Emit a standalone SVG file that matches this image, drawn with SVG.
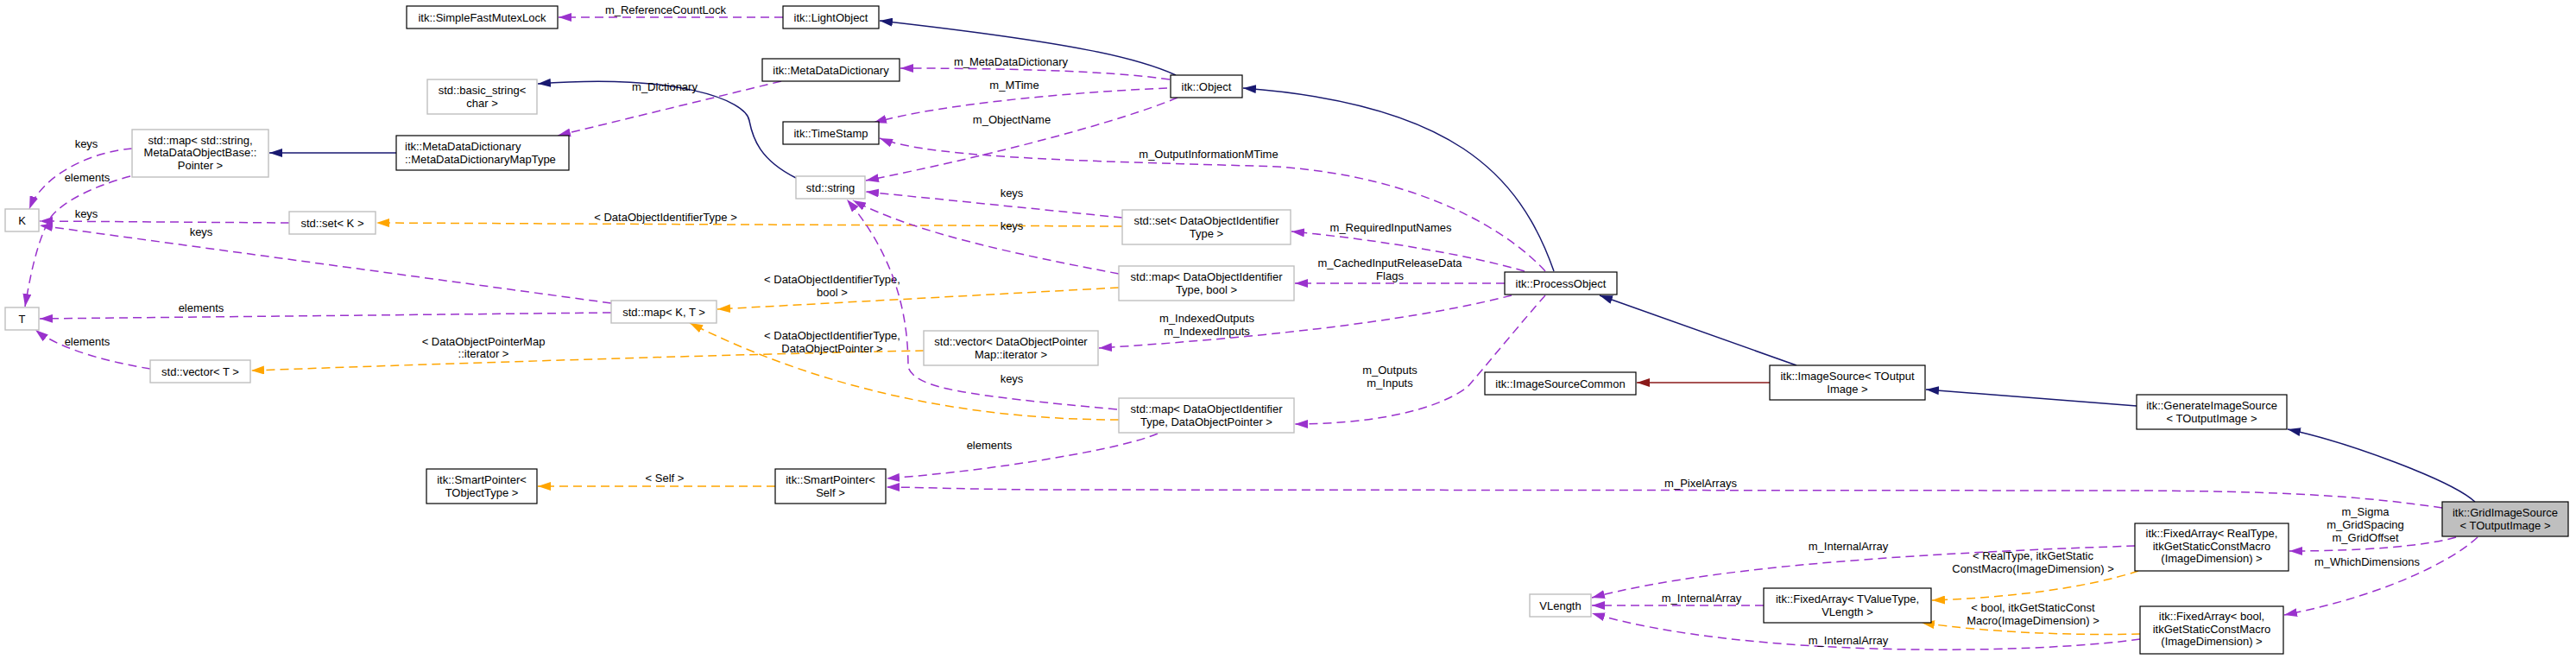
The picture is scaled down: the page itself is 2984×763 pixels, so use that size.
<svg xmlns="http://www.w3.org/2000/svg" width="2984" height="763" viewBox="0 0 2984 763">
<style>
text{font-family:"Liberation Sans",Arial,sans-serif;font-size:13px;fill:#000}
.c{text-anchor:middle}
.b{fill:#fff;stroke:#000;stroke-width:1.2}
.g{fill:#fff;stroke:#bfbfbf;stroke-width:1.4}
.h{fill:#bfbfbf;stroke:#000;stroke-width:1.2}
.e{fill:none;stroke-width:1.5}
.nav{stroke:#191970}
.red{stroke:#8b1a1a}
.pur{stroke:#9a32cd;stroke-dasharray:10,6}
.org{stroke:#ffa500;stroke-dasharray:10,6}
</style>
<defs>
<marker id="aN" viewBox="0 0 15 10" refX="15" refY="5" markerWidth="15" markerHeight="10" markerUnits="userSpaceOnUse" orient="auto"><path d="M0,0 L15,5 L0,10 z" fill="#191970"/></marker>
<marker id="aR" viewBox="0 0 15 10" refX="15" refY="5" markerWidth="15" markerHeight="10" markerUnits="userSpaceOnUse" orient="auto"><path d="M0,0 L15,5 L0,10 z" fill="#8b1a1a"/></marker>
<marker id="aP" viewBox="0 0 15 10" refX="15" refY="5" markerWidth="15" markerHeight="10" markerUnits="userSpaceOnUse" orient="auto"><path d="M0,0 L15,5 L0,10 z" fill="#9a32cd"/></marker>
<marker id="aO" viewBox="0 0 15 10" refX="15" refY="5" markerWidth="15" markerHeight="10" markerUnits="userSpaceOnUse" orient="auto"><path d="M0,0 L15,5 L0,10 z" fill="#ffa500"/></marker>
</defs>
<rect width="2984" height="763" fill="#fff"/>

<g id="edges">
<!-- inheritance -->
<path class="e nav" marker-end="url(#aN)" d="M1362,87 C1320,68 1250,50 1019,24"/>
<path class="e nav" marker-end="url(#aN)" d="M1800,314 C1760,200 1680,120 1440,102"/>
<path class="e nav" marker-end="url(#aN)" d="M2081,423 L1853,342"/>
<path class="e nav" marker-end="url(#aN)" d="M2475,470 L2231,451"/>
<path class="e nav" marker-end="url(#aN)" d="M2867,581 C2840,556 2720,512 2650,497"/>
<path class="e nav" marker-end="url(#aN)" d="M459,177 L312,177"/>
<path class="e nav" marker-end="url(#aN)" d="M922,206 C880,185 872,160 868,140 C865,115 780,85 623,97"/>
<path class="e red" marker-end="url(#aR)" d="M2050,443 L1896,443"/>
<!-- template instances -->
<path class="e org" marker-end="url(#aO)" d="M1300,262 L436,258"/>
<path class="e org" marker-end="url(#aO)" d="M1296,333 L831,358"/>
<path class="e org" marker-end="url(#aO)" d="M1296,486 C1120,486 950,450 799,374"/>
<path class="e org" marker-end="url(#aO)" d="M1070,406 C900,409 600,418 291,429"/>
<path class="e org" marker-end="url(#aO)" d="M898,563 L623,563"/>
<path class="e org" marker-end="url(#aO)" d="M2477,661 C2420,680 2330,692 2238,695"/>
<path class="e org" marker-end="url(#aO)" d="M2479,734 C2400,736 2300,732 2226,721"/>
<text class="c" x="771" y="255.5">&lt; DataObjectIdentifierType &gt;</text>
<text class="c" x="964" y="328">&lt; DataObjectIdentifierType,</text>
<text class="c" x="964" y="343">bool &gt;</text>
<text class="c" x="964" y="393">&lt; DataObjectIdentifierType,</text>
<text class="c" x="964" y="408">DataObjectPointer &gt;</text>
<text class="c" x="560" y="400">&lt; DataObjectPointerMap</text>
<text class="c" x="560" y="414">::iterator &gt;</text>
<text class="c" x="770" y="558">&lt; Self &gt;</text>
<text class="c" x="2355" y="648">&lt; RealType, itkGetStatic</text>
<text class="c" x="2355" y="663">ConstMacro(ImageDimension) &gt;</text>
<text class="c" x="2355" y="708">&lt; bool, itkGetStaticConst</text>
<text class="c" x="2355" y="723">Macro(ImageDimension) &gt;</text>
<!-- usage -->
<path class="e pur" marker-end="url(#aP)" d="M907,20 L647,20"/>
<path class="e pur" marker-end="url(#aP)" d="M1355,92 C1300,84 1200,79 1043,79"/>
<path class="e pur" marker-end="url(#aP)" d="M1352,102 C1250,106 1090,120 1012,142"/>
<path class="e pur" marker-end="url(#aP)" d="M1364,113 C1300,140 1150,180 1003,209"/>
<path class="e pur" marker-end="url(#aP)" d="M1790,314 C1750,270 1650,205 1480,193 C1300,187 1080,185 1019,160"/>
<path class="e pur" marker-end="url(#aP)" d="M905,94 L646,157"/>
<path class="e pur" marker-end="url(#aP)" d="M153,172 C110,175 50,200 34,242"/>
<path class="e pur" marker-end="url(#aP)" d="M151,204 C110,215 75,232 60,250 C48,268 38,300 29,355"/>
<path class="e pur" marker-end="url(#aP)" d="M335,258 L46,256"/>
<path class="e pur" marker-end="url(#aP)" d="M708,351 L46,261"/>
<path class="e pur" marker-end="url(#aP)" d="M708,362 L46,369"/>
<path class="e pur" marker-end="url(#aP)" d="M174,427 C130,420 70,405 41,382"/>
<path class="e pur" marker-end="url(#aP)" d="M1300,252 L1003,222"/>
<path class="e pur" marker-end="url(#aP)" d="M1296,317 C1180,295 1060,270 988,232"/>
<path class="e pur" marker-end="url(#aP)" d="M1294,474 C1120,458 1060,450 1052,425 C1052,370 1040,300 981,231"/>
<path class="e pur" marker-end="url(#aP)" d="M1766,314 C1700,295 1600,278 1496,268"/>
<path class="e pur" marker-end="url(#aP)" d="M1743,328 L1500,328"/>
<path class="e pur" marker-end="url(#aP)" d="M1751,342 C1680,360 1550,385 1273,403"/>
<path class="e pur" marker-end="url(#aP)" d="M1790,342 C1765,370 1720,425 1700,448 C1660,478 1580,491 1500,491"/>
<path class="e pur" marker-end="url(#aP)" d="M1341,502 C1300,520 1150,545 1027,554"/>
<path class="e pur" marker-end="url(#aP)" d="M2829,588 C2740,575 2650,568 2450,568 L1200,567 C1100,566 1060,564 1027,564"/>
<path class="e pur" marker-end="url(#aP)" d="M2845,622 C2810,632 2740,638 2652,638"/>
<path class="e pur" marker-end="url(#aP)" d="M2870,622 C2840,650 2760,690 2646,712"/>
<path class="e pur" marker-end="url(#aP)" d="M2473,632 C2300,638 2000,650 1844,692"/>
<path class="e pur" marker-end="url(#aP)" d="M2043,701 L1844,701"/>
<path class="e pur" marker-end="url(#aP)" d="M2479,740 C2350,758 2020,762 1844,710"/>
<text class="c" x="771" y="16">m_ReferenceCountLock</text>
<text class="c" x="1171" y="76">m_MetaDataDictionary</text>
<text class="c" x="1175" y="103">m_MTime</text>
<text class="c" x="1172" y="143">m_ObjectName</text>
<text class="c" x="1400" y="183">m_OutputInformationMTime</text>
<text class="c" x="770" y="104.5">m_Dictionary</text>
<text class="c" x="100" y="171">keys</text>
<text class="c" x="101" y="209.5">elements</text>
<text class="c" x="100" y="252">keys</text>
<text class="c" x="233" y="273">keys</text>
<text class="c" x="233" y="361">elements</text>
<text class="c" x="101" y="399.5">elements</text>
<text class="c" x="1172" y="227.5">keys</text>
<text class="c" x="1172" y="265.5">keys</text>
<text class="c" x="1172" y="442.5">keys</text>
<text class="c" x="1611" y="267.5">m_RequiredInputNames</text>
<text class="c" x="1610" y="308.5">m_CachedInputReleaseData</text>
<text class="c" x="1610" y="323.5">Flags</text>
<text class="c" x="1398" y="372.5">m_IndexedOutputs</text>
<text class="c" x="1398" y="387.5">m_IndexedInputs</text>
<text class="c" x="1610" y="432.5">m_Outputs</text>
<text class="c" x="1610" y="447.5">m_Inputs</text>
<text class="c" x="1146" y="519.5">elements</text>
<text class="c" x="1970" y="564">m_PixelArrays</text>
<text class="c" x="2740" y="596.5">m_Sigma</text>
<text class="c" x="2740" y="611.5">m_GridSpacing</text>
<text class="c" x="2740" y="626.5">m_GridOffset</text>
<text class="c" x="2742" y="654.5">m_WhichDimensions</text>
<text class="c" x="2141" y="636.5">m_InternalArray</text>
<text class="c" x="1971" y="697">m_InternalArray</text>
<text class="c" x="2141" y="745.5">m_InternalArray</text>
</g>

<g id="n_SimpleFastMutexLock"><rect class="b" x="471" y="7" width="175" height="26"/><text class="c" x="558.5" y="24.5">itk::SimpleFastMutexLock</text></g>
<g id="n_LightObject"><rect class="b" x="907" y="7" width="111" height="26"/><text class="c" x="962.5" y="24.5">itk::LightObject</text></g>
<g id="n_MetaDataDictionary"><rect class="b" x="883" y="68" width="159" height="26"/><text class="c" x="962.5" y="85.5">itk::MetaDataDictionary</text></g>
<g id="n_Object"><rect class="b" x="1356" y="87" width="83" height="26"/><text class="c" x="1397.5" y="104.5">itk::Object</text></g>
<g id="n_TimeStamp"><rect class="b" x="907" y="141" width="111" height="26"/><text class="c" x="962.5" y="158.5">itk::TimeStamp</text></g>
<g id="n_basic_string"><rect class="g" x="495" y="92" width="127" height="40"/><text class="c" x="558.5" y="109">std::basic_string&lt;</text><text class="c" x="558.5" y="124">char &gt;</text></g>
<g id="n_map_string"><rect class="g" x="153" y="150" width="158" height="55"/><text class="c" x="232" y="166.5">std::map&lt; std::string,</text><text class="c" x="232" y="181">MetaDataObjectBase::</text><text class="c" x="232" y="195.5">Pointer &gt;</text></g>
<g id="n_MapType"><rect class="b" x="459" y="157" width="200" height="40"/><text x="469" y="174">itk::MetaDataDictionary</text><text x="469" y="188.5">::MetaDataDictionaryMapType</text></g>
<g id="n_string"><rect class="g" x="922" y="204" width="80" height="26"/><text class="c" x="962" y="221.5">std::string</text></g>
<g id="n_K"><rect class="g" x="6" y="242" width="39" height="26"/><text class="c" x="25.5" y="259.5">K</text></g>
<g id="n_set_K"><rect class="g" x="335" y="245" width="100" height="26"/><text class="c" x="385" y="262.5">std::set&lt; K &gt;</text></g>
<g id="n_set_DOIT"><rect class="g" x="1300" y="243" width="195" height="40"/><text class="c" x="1397.5" y="260">std::set&lt; DataObjectIdentifier</text><text class="c" x="1397.5" y="274.5">Type &gt;</text></g>
<g id="n_map_DOIT_bool"><rect class="g" x="1296" y="308" width="203" height="40"/><text class="c" x="1397.5" y="325">std::map&lt; DataObjectIdentifier</text><text class="c" x="1397.5" y="339.5">Type, bool &gt;</text></g>
<g id="n_ProcessObject"><rect class="b" x="1743" y="315" width="130" height="26"/><text class="c" x="1808" y="332.5">itk::ProcessObject</text></g>
<g id="n_T"><rect class="g" x="6" y="356" width="39" height="26"/><text class="c" x="25.5" y="373.5">T</text></g>
<g id="n_map_K_T"><rect class="g" x="708" y="348" width="122" height="26"/><text class="c" x="769" y="365.5">std::map&lt; K, T &gt;</text></g>
<g id="n_vector_DOPM"><rect class="g" x="1070" y="383" width="202" height="40"/><text class="c" x="1171" y="400">std::vector&lt; DataObjectPointer</text><text class="c" x="1171" y="414.5">Map::iterator &gt;</text></g>
<g id="n_vector_T"><rect class="g" x="174" y="417" width="116" height="26"/><text class="c" x="232" y="434.5">std::vector&lt; T &gt;</text></g>
<g id="n_map_DOIT_DOP"><rect class="g" x="1296" y="461" width="203" height="40"/><text class="c" x="1397.5" y="478">std::map&lt; DataObjectIdentifier</text><text class="c" x="1397.5" y="492.5">Type, DataObjectPointer &gt;</text></g>
<g id="n_ImageSourceCommon"><rect class="b" x="1720" y="431" width="175" height="26"/><text class="c" x="1807.5" y="448.5">itk::ImageSourceCommon</text></g>
<g id="n_ImageSource"><rect class="b" x="2050" y="423" width="180" height="40"/><text class="c" x="2140" y="440">itk::ImageSource&lt; TOutput</text><text class="c" x="2140" y="454.5">Image &gt;</text></g>
<g id="n_GenerateImageSource"><rect class="b" x="2475" y="457" width="174" height="40"/><text class="c" x="2562" y="474">itk::GenerateImageSource</text><text class="c" x="2562" y="488.5">&lt; TOutputImage &gt;</text></g>
<g id="n_SmartPointer_TObjectType"><rect class="b" x="494" y="543" width="128" height="40"/><text class="c" x="558" y="560">itk::SmartPointer&lt;</text><text class="c" x="558" y="574.5">TObjectType &gt;</text></g>
<g id="n_SmartPointer_Self"><rect class="b" x="898" y="543" width="128" height="40"/><text class="c" x="962" y="560">itk::SmartPointer&lt;</text><text class="c" x="962" y="574.5">Self &gt;</text></g>
<g id="n_GridImageSource"><rect class="h" x="2829" y="581" width="146" height="40"/><text class="c" x="2902" y="598">itk::GridImageSource</text><text class="c" x="2902" y="612.5">&lt; TOutputImage &gt;</text></g>
<g id="n_FixedArray_RealType"><rect class="b" x="2473" y="606" width="178" height="55"/><text class="c" x="2562" y="622">itk::FixedArray&lt; RealType,</text><text class="c" x="2562" y="636.5">itkGetStaticConstMacro</text><text class="c" x="2562" y="651">(ImageDimension) &gt;</text></g>
<g id="n_VLength"><rect class="g" x="1772" y="688" width="71" height="26"/><text class="c" x="1807.5" y="705.5">VLength</text></g>
<g id="n_FixedArray_TValueType"><rect class="b" x="2043" y="681" width="194" height="40"/><text class="c" x="2140" y="698">itk::FixedArray&lt; TValueType,</text><text class="c" x="2140" y="712.5">VLength &gt;</text></g>
<g id="n_FixedArray_bool"><rect class="b" x="2479" y="702" width="166" height="55"/><text class="c" x="2562" y="718">itk::FixedArray&lt; bool,</text><text class="c" x="2562" y="732.5">itkGetStaticConstMacro</text><text class="c" x="2562" y="747">(ImageDimension) &gt;</text></g>
</svg>
